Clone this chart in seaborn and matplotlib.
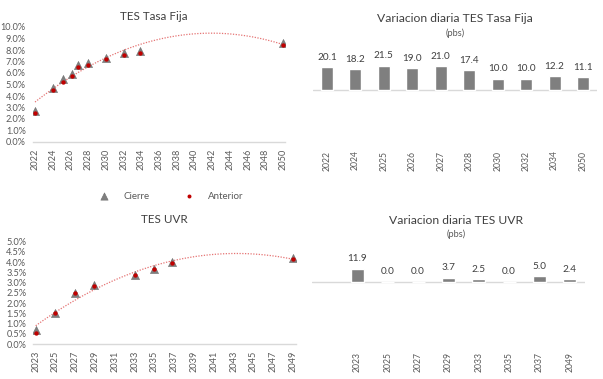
import numpy as np
import pandas as pd
import matplotlib
matplotlib.use("Agg")
import matplotlib.pyplot as plt
import seaborn as sns

# ---------------- data ----------------
tf_labels = ["2022", "2024", "2025", "2026", "2027", "2028", "2030", "2032", "2034", "2050"]
tf_maturity = [2022.0, 2024.0, 2025.2, 2026.15, 2026.8, 2028.0, 2030.0, 2032.0, 2033.9, 2050.0]
tf_cierre = [2.68, 4.72, 5.46, 5.95, 6.70, 6.88, 7.32, 7.70, 7.88, 8.58]
tf_anterior = [2.48, 4.54, 5.25, 5.76, 6.49, 6.71, 7.22, 7.60, 7.76, 8.47]
tf_var = [20.1, 18.2, 21.5, 19.0, 21.0, 17.4, 10.0, 10.0, 12.2, 11.1]
tf_xticks = list(range(2022, 2051, 2))

uvr_labels = ["2023", "2025", "2027", "2029", "2033", "2035", "2037", "2049"]
uvr_maturity = [2023.0, 2025.0, 2027.0, 2028.85, 2033.0, 2035.0, 2036.8, 2049.0]
uvr_cierre = [0.66, 1.50, 2.48, 2.88, 3.39, 3.68, 4.01, 4.19]
uvr_anterior = [0.54, 1.50, 2.48, 2.84, 3.37, 3.68, 3.96, 4.17]
uvr_var = [11.9, 0.0, 0.0, 3.7, 2.5, 0.0, 5.0, 2.4]
uvr_xticks = list(range(2023, 2050, 2))

# ---------------- style ----------------
sns.set_theme(style="white")
plt.rcParams["font.family"] = ["Lato", "DejaVu Sans"]

W, H = 603, 379
GREY = "#7f7f7f"
RED = "#c00000"
TREND = "#e57373"
TXT = "#595959"
LINE = "#d9d9d9"


def box(l, t, r, b):
    return [l / W, 1 - b / H, (r - l) / W, (b - t) / H]


fig = plt.figure(figsize=(W / 100, H / 100), dpi=100)


def curve_axes(rect, x, cierre, anterior, xlim, ylim, ystep, xticks):
    ax = fig.add_axes(rect)
    df = pd.DataFrame({"x": x, "cierre": cierre, "anterior": anterior})
    sns.regplot(data=df, x="x", y="cierre", order=2, ci=None, scatter=False,
                ax=ax, line_kws=dict(color=TREND, lw=0.9, ls=(0, (1, 1.2))))
    sns.scatterplot(data=df, x="x", y="cierre", marker="^", s=34, color=GREY,
                    edgecolor="#6d6d6d", linewidth=0.4, ax=ax, label="Cierre", zorder=3)
    sns.scatterplot(data=df, x="x", y="anterior", marker="o", s=10, color=RED,
                    edgecolor=RED, linewidth=0, ax=ax, label="Anterior", zorder=4)
    ax.set_xlim(*xlim)
    ax.set_ylim(*ylim)
    ticks = np.arange(ylim[0], ylim[1] + 1e-9, ystep)
    ax.set_yticks(ticks)
    ax.set_yticklabels([f"{v:.1f}%" for v in ticks])
    ax.set_xticks(xticks)
    ax.set_xticklabels([str(t) for t in xticks], rotation=90)
    ax.tick_params(axis="both", length=0, labelsize=6.6, colors=TXT)
    ax.tick_params(axis="y", pad=5)
    ax.tick_params(axis="x", pad=5)
    for s in ["top", "right", "left"]:
        ax.spines[s].set_visible(False)
    ax.spines["bottom"].set_color(LINE)
    ax.spines["bottom"].set_linewidth(1.0)
    ax.set_xlabel("")
    ax.set_ylabel("")
    ax.patch.set_alpha(0)
    return ax


def bar_axes(rect, labels, values, xlim, ylim):
    ax = fig.add_axes(rect)
    df = pd.DataFrame({"bono": labels, "var": values})
    sns.barplot(data=df, x="bono", y="var", color=GREY, saturation=1, width=0.42,
                ax=ax, zorder=3)
    for c in ax.containers:
        ax.bar_label(c, fmt="%.1f", padding=4, fontsize=7.2, color="#404040")
    ax.axhline(0, color=LINE, lw=1.0, zorder=1)
    ax.set_xlim(*xlim)
    ax.set_ylim(*ylim)
    ax.set_yticks([])
    ax.set_xticklabels(labels, rotation=90)
    ax.tick_params(axis="x", length=0, labelsize=6.2, colors=TXT, pad=4)
    for s in ["top", "right", "left", "bottom"]:
        ax.spines[s].set_visible(False)
    ax.set_xlabel("")
    ax.set_ylabel("")
    ax.patch.set_alpha(0)
    return ax


ax1 = curve_axes(box(32.8, 27, 285.2, 142), tf_maturity, tf_cierre, tf_anterior,
                 (2021.75, 2050.25), (0, 10), 1.0, tf_xticks)
ax3 = curve_axes(box(33.2, 241.7, 295.5, 344), uvr_maturity, uvr_cierre, uvr_anterior,
                 (2022.75, 2049.25), (0, 5), 0.5, uvr_xticks)

handles, lbls = ax1.get_legend_handles_labels()
ax1.get_legend().remove()
ax3.get_legend().remove()
fig.legend(handles, lbls, loc="center", bbox_to_anchor=(169 / W, 1 - 196.5 / H),
           ncol=2, frameon=False, fontsize=7.0, labelcolor=TXT, columnspacing=3.0,
           handletextpad=1.0, markerscale=0.9)

ax2 = bar_axes(box(312.8, 45, 597.2, 145), tf_labels, tf_var, (-0.5, 9.5), (-48.2, 39.5))
ax4 = bar_axes(box(312, 240, 585, 346), uvr_labels, uvr_var, (-1.5, 7.5), (-57.1, 37.5))

# titles
fig.text(153.7 / W, 1 - 17 / H, "TES Tasa Fija", ha="center", va="center",
         fontsize=8.4, color="#404040")
fig.text(164 / W, 1 - 219 / H, "TES UVR", ha="center", va="center",
         fontsize=8.4, color="#404040")
fig.text(455.3 / W, 1 - 18 / H, "Variacion diaria TES Tasa Fija", ha="center",
         va="center", fontsize=8.7, color="#404040")
fig.text(455 / W, 1 - 33 / H, "(pbs)", ha="center", va="center", fontsize=6.6, color=TXT)
fig.text(456 / W, 1 - 220 / H, "Variacion diaria TES UVR", ha="center",
         va="center", fontsize=8.7, color="#404040")
fig.text(455.7 / W, 1 - 234 / H, "(pbs)", ha="center", va="center", fontsize=6.6, color=TXT)

fig.savefig("out.png", dpi=100, facecolor="white")
